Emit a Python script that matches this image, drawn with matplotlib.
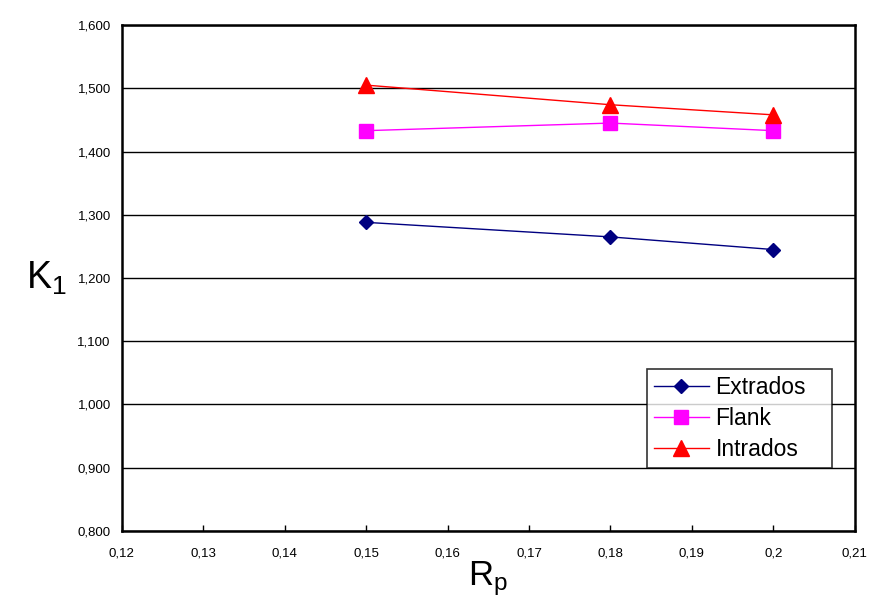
import matplotlib
matplotlib.use("Agg")
import matplotlib.pyplot as plt
from matplotlib.ticker import FuncFormatter

plt.rcParams['font.family'] = ['Liberation Sans', 'DejaVu Sans']
plt.rcParams['mathtext.fontset'] = 'custom'
plt.rcParams['mathtext.rm'] = 'Liberation Sans'

# data
rp = [0.15, 0.18, 0.20]
extrados = [1.288, 1.265, 1.245]
flank = [1.433, 1.445, 1.433]
intrados = [1.505, 1.474, 1.458]

x_ticks = [0.12, 0.13, 0.14, 0.15, 0.16, 0.17, 0.18, 0.19, 0.20, 0.21]
x_labels = ["0,12", "0,13", "0,14", "0,15", "0,16", "0,17", "0,18", "0,19", "0,2", "0,21"]
y_ticks = [0.8, 0.9, 1.0, 1.1, 1.2, 1.3, 1.4, 1.5, 1.6]

fig = plt.figure(figsize=(8.96, 6.11), dpi=100)
ax = fig.add_axes([0.136, 0.131, 0.818, 0.828])

ax.plot(rp, extrados, color='#000080', lw=1, marker='D', ms=7, label='Extrados')
ax.plot(rp, flank, color='#FF00FF', lw=1, marker='s', ms=10, label='Flank')
ax.plot(rp, intrados, color='#FF0000', lw=1, marker='^', ms=11, label='Intrados')

ax.set_xlim(0.12, 0.21)
ax.set_ylim(0.8, 1.6)
ax.set_xticks(x_ticks)
ax.set_xticklabels(x_labels, fontsize=9.5)
ax.set_yticks(y_ticks)
ax.yaxis.set_major_formatter(FuncFormatter(lambda v, p: f"{v:.3f}".replace('.', ',')))
ax.tick_params(axis='y', length=0, pad=8, labelsize=9.5)
ax.tick_params(axis='x', direction='in', length=4, width=1, pad=12)

ax.yaxis.grid(True, color='black', lw=1)
ax.set_axisbelow(True)
for s in ax.spines.values():
    s.set_linewidth(1.8)

ax.set_ylabel(r'$\mathregular{K_1}$', fontsize=27, rotation=0, labelpad=22, va='center')
ax.set_xlabel(r'$\mathregular{R_p}$', fontsize=25, labelpad=0)

leg = ax.legend(loc='lower left', bbox_to_anchor=(0.7162, 0.1245, 0.2524, 0.19), mode='expand',
                fontsize=16.5, frameon=True, fancybox=False, edgecolor='black', borderpad=0.3,
                handlelength=2.4, handletextpad=0.3, labelspacing=0.35, borderaxespad=0)
leg.get_frame().set_linewidth(1.2)

fig.savefig("out.png", dpi=100, facecolor='white')
